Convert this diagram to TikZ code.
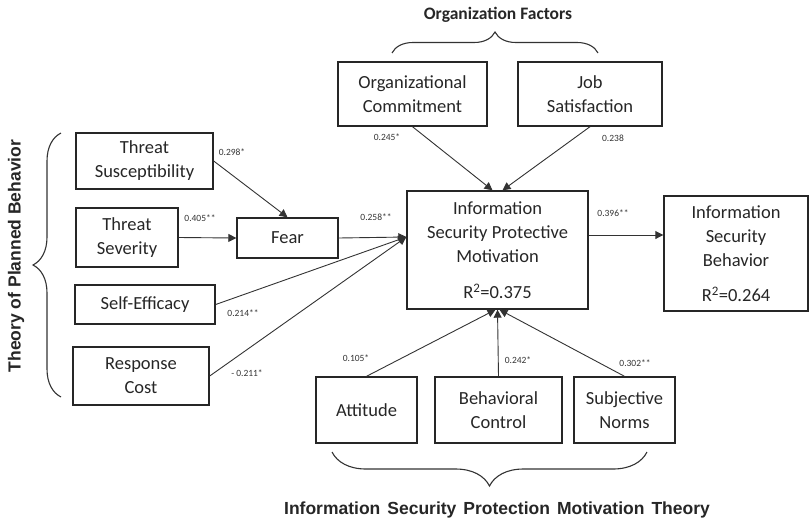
\documentclass[tikz,border=0pt]{standalone}
\usepackage{fontspec}
\setmainfont{Carlito}
\newfontfamily\arialfont{Liberation Sans}
\newcommand\widespace{\spaceskip=7pt plus 1pt\relax}
\usetikzlibrary{arrows.meta, calc, decorations.pathreplacing}
\tikzset{
    box/.style={draw=black!85, line width=1.4pt, align=center, inner sep=0pt,
        font=\fontsize{18.5}{24}\selectfont, text=black!85},
    link/.style={-{Triangle[length=8pt,width=8pt]}, line width=0.9pt, black!80},
    coef/.style={font=\fontsize{9.5}{11}\selectfont, text=black!80, inner sep=0pt},
    theory/.style={font=\arialfont\bfseries\fontsize{17.5}{20}\selectfont, text=black!85, inner sep=0pt},
    group/.style={decorate, decoration={brace, amplitude=#1}, line width=1.1pt, black!80}
}

\begin{document}
\begin{tikzpicture}[x=1pt, y=-1pt]
    \useasboundingbox (0,0) rectangle (811,520);
    % left column
    \node[box, minimum width=137pt, minimum height=56pt] (sus) at (144.5,161) {Threat\\Susceptibility};
    \node[box, minimum width=102pt, minimum height=59pt] (sev) at (127,237.5) {Threat\\Severity};
    \node[box, minimum width=140pt, minimum height=39pt] (eff) at (145,304.5) {Self-Efficacy};
    \node[box, minimum width=136pt, minimum height=58pt] (cost) at (141,376) {Response\\Cost};
    \node[box, minimum width=101pt, minimum height=40pt] (fear) at (287.5,238) {Fear};

    % organization factors
    \node[box, minimum width=149pt, minimum height=64pt] (orgc) at (412.5,94) {Organizational\\Commitment};
    \node[box, minimum width=144pt, minimum height=64pt] (job) at (590,94) {Job\\Satisfaction};

    % main constructs
    \node[box, minimum width=181pt, minimum height=118pt] (ispm) at (497.5,250)
        {Information\\Security Protective\\Motivation\\[12pt]R\textsuperscript{2}=0.375};
    \node[box, minimum width=144pt, minimum height=115pt] (isb) at (736,253.5)
        {Information\\Security\\Behavior\\[11pt]R\textsuperscript{2}=0.264};

    % PMT
    \node[box, minimum width=101pt, minimum height=66pt] (att) at (366.5,410) {Attitude};
    \node[box, minimum width=127pt, minimum height=66pt] (bc) at (498.5,410) {Behavioral\\Control};
    \node[box, minimum width=101pt, minimum height=66pt] (sn) at (624.5,410) {Subjective\\Norms};

    \coordinate (ispmin) at ([yshift=13pt]ispm.west);
    \coordinate (ispmout) at ([yshift=15pt]ispm.east);

    \draw[link] (sus.east) -- (fear.north);
    \draw[link] (sev.east) -- (fear.west);
    \draw[link] (fear.east) -- (ispmin);
    \draw[link] (eff.east) -- (ispmin);
    \draw[link] (cost.east) -- (ispmin);
    \draw[link] (orgc.south) -- ([xshift=-5pt]ispm.north);
    \draw[link] (job.south) -- ([xshift=5pt]ispm.north);
    \draw[link] (att.north) -- ([xshift=-2pt]ispm.south);
    \draw[link] (bc.north) -- (ispm.south);
    \draw[link] (sn.north) -- ([xshift=2pt]ispm.south);
    \draw[link] (ispmout) -- (ispmout -| isb.west);

    % path coefficients
    \node[coef] (k-sus) at (232,152) {0.298*};
    \node[coef] (k-sev) at (200,218) {0.405**};
    \node[coef] (k-fear) at (376,217) {0.258**};
    \node[coef] (k-eff) at (243,313) {0.214**};
    \node[coef] (k-cost) at (247,373) {- 0.211*};
    \node[coef] (k-orgc) at (387,137) {0.245*};
    \node[coef] (k-job) at (613,138) {0.238};
    \node[coef] (k-isb) at (613,213) {0.396**};
    \node[coef] (k-att) at (356,358) {0.105*};
    \node[coef] (k-bc) at (518,360) {0.242*};
    \node[coef] (k-sn) at (635,363) {0.302**};

    % braces and theory names
    \draw[group=28pt] (61,397) -- (61,133);
    \node[theory, rotate=90] (tpb) at (16,256) {Theory of Planned Behavior};
    \draw[group=21pt] (392,53) -- (598,53);
    \node[font=\bfseries\fontsize{17.5}{20}\selectfont, text=black!85, inner sep=0pt] (of) at (498,15) {Organization Factors};
    \draw[group=34pt] (647,452) -- (332,452);
    \node[theory, font=\arialfont\bfseries\fontsize{17.5}{20}\selectfont\widespace] (pmt) at (497,510) {Information Security Protection Motivation Theory};
\end{tikzpicture}
\end{document}
